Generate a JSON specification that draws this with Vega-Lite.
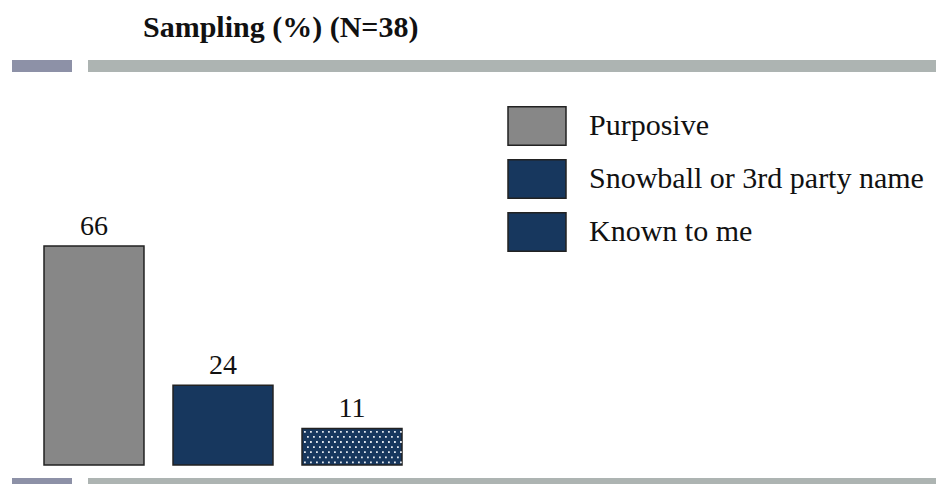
{
  "$schema": "https://vega.github.io/schema/vega-lite/v6.json",
  "autosize": "none",
  "width": 924,
  "height": 418,
  "padding": {"left": 12, "top": 66, "right": 0, "bottom": 0},
  "background": "#ffffff",
  "title": {
    "text": "Sampling (%) (N=38)",
    "font": "Liberation Serif",
    "fontSize": 30,
    "fontWeight": "bold",
    "color": "#111111",
    "anchor": "start",
    "dx": 131,
    "offset": -1,
    "baseline": "alphabetic"
  },
  "view": {
    "fill": null,
    "stroke": {
      "gradient": "linear",
      "x1": 0, "y1": 0, "x2": 1, "y2": 0,
      "stops": [
        {"offset": 0, "color": "#8d91a7"},
        {"offset": 0.07, "color": "#8d91a7"},
        {"offset": 0.0701, "color": "#adb4b2"},
        {"offset": 1, "color": "#adb4b2"}
      ]
    },
    "strokeWidth": 12,
    "strokeDash": [60, 16, 848, 418, 848, 16, 60, 418]
  },
  "data": {
    "values": [
      {"group": "Purposive", "pct": 66},
      {"group": "Snowball or 3rd party name", "pct": 24},
      {"group": "Known to me", "pct": 11}
    ]
  },
  "encoding": {
    "x": {
      "field": "group",
      "type": "nominal",
      "sort": null,
      "scale": {"range": [32, 390], "paddingInner": 0.225, "paddingOuter": 0},
      "axis": null
    },
    "y": {
      "field": "pct",
      "type": "quantitative",
      "scale": {"domain": [-5.73, 120.25], "nice": false, "zero": true},
      "axis": null
    },
    "color": {
      "field": "group",
      "type": "nominal",
      "scale": {
        "domain": ["Purposive", "Snowball or 3rd party name", "Known to me"],
        "range": ["#878787", "#17375e", "#17375e"]
      },
      "legend": {
        "orient": "none",
        "legendX": 495,
        "legendY": 30,
        "title": null,
        "symbolSize": 3364,
        "symbolType": "M-1,-0.66H1V0.66H-1Z",
        "symbolStrokeColor": "#222222",
        "symbolStrokeWidth": 1.5,
        "labelFont": "Liberation Serif",
        "labelFontSize": 30,
        "labelColor": "#111111",
        "labelOffset": 22,
        "labelLimit": 500,
        "rowPadding": 0
      }
    }
  },
  "layer": [
    {
      "transform": [{"filter": "datum.group !== 'Known to me'"}],
      "mark": {"type": "bar", "stroke": "#222222", "strokeWidth": 1.5, "opacity": 1}
    },
    {
      "transform": [{"filter": "datum.group === 'Known to me'"}],
      "mark": {"type": "bar", "stroke": "#222222", "strokeWidth": 1.5, "opacity": 1}
    },
    {
      "transform": [{"filter": "datum.group === 'Known to me'"}],
      "mark": {
        "type": "point",
        "filled": true,
        "strokeWidth": 0,
        "opacity": 1,
        "size": 144,
        "shape": "M-8,0.4h0.3v0.3h-0.3zM-7,0.4h0.3v0.3h-0.3zM-6,0.4h0.3v0.3h-0.3zM-5,0.4h0.3v0.3h-0.3zM-4,0.4h0.3v0.3h-0.3zM-3,0.4h0.3v0.3h-0.3zM-2,0.4h0.3v0.3h-0.3zM-1,0.4h0.3v0.3h-0.3zM0,0.4h0.3v0.3h-0.3zM1,0.4h0.3v0.3h-0.3zM2,0.4h0.3v0.3h-0.3zM3,0.4h0.3v0.3h-0.3zM4,0.4h0.3v0.3h-0.3zM5,0.4h0.3v0.3h-0.3zM6,0.4h0.3v0.3h-0.3zM7,0.4h0.3v0.3h-0.3zM8,0.4h0.3v0.3h-0.3zM-7.5,1.25h0.3v0.3h-0.3zM-6.5,1.25h0.3v0.3h-0.3zM-5.5,1.25h0.3v0.3h-0.3zM-4.5,1.25h0.3v0.3h-0.3zM-3.5,1.25h0.3v0.3h-0.3zM-2.5,1.25h0.3v0.3h-0.3zM-1.5,1.25h0.3v0.3h-0.3zM-0.5,1.25h0.3v0.3h-0.3zM0.5,1.25h0.3v0.3h-0.3zM1.5,1.25h0.3v0.3h-0.3zM2.5,1.25h0.3v0.3h-0.3zM3.5,1.25h0.3v0.3h-0.3zM4.5,1.25h0.3v0.3h-0.3zM5.5,1.25h0.3v0.3h-0.3zM6.5,1.25h0.3v0.3h-0.3zM7.5,1.25h0.3v0.3h-0.3zM-8,2.1h0.3v0.3h-0.3zM-7,2.1h0.3v0.3h-0.3zM-6,2.1h0.3v0.3h-0.3zM-5,2.1h0.3v0.3h-0.3zM-4,2.1h0.3v0.3h-0.3zM-3,2.1h0.3v0.3h-0.3zM-2,2.1h0.3v0.3h-0.3zM-1,2.1h0.3v0.3h-0.3zM0,2.1h0.3v0.3h-0.3zM1,2.1h0.3v0.3h-0.3zM2,2.1h0.3v0.3h-0.3zM3,2.1h0.3v0.3h-0.3zM4,2.1h0.3v0.3h-0.3zM5,2.1h0.3v0.3h-0.3zM6,2.1h0.3v0.3h-0.3zM7,2.1h0.3v0.3h-0.3zM8,2.1h0.3v0.3h-0.3zM-7.5,2.95h0.3v0.3h-0.3zM-6.5,2.95h0.3v0.3h-0.3zM-5.5,2.95h0.3v0.3h-0.3zM-4.5,2.95h0.3v0.3h-0.3zM-3.5,2.95h0.3v0.3h-0.3zM-2.5,2.95h0.3v0.3h-0.3zM-1.5,2.95h0.3v0.3h-0.3zM-0.5,2.95h0.3v0.3h-0.3zM0.5,2.95h0.3v0.3h-0.3zM1.5,2.95h0.3v0.3h-0.3zM2.5,2.95h0.3v0.3h-0.3zM3.5,2.95h0.3v0.3h-0.3zM4.5,2.95h0.3v0.3h-0.3zM5.5,2.95h0.3v0.3h-0.3zM6.5,2.95h0.3v0.3h-0.3zM7.5,2.95h0.3v0.3h-0.3zM-8,3.8h0.3v0.3h-0.3zM-7,3.8h0.3v0.3h-0.3zM-6,3.8h0.3v0.3h-0.3zM-5,3.8h0.3v0.3h-0.3zM-4,3.8h0.3v0.3h-0.3zM-3,3.8h0.3v0.3h-0.3zM-2,3.8h0.3v0.3h-0.3zM-1,3.8h0.3v0.3h-0.3zM0,3.8h0.3v0.3h-0.3zM1,3.8h0.3v0.3h-0.3zM2,3.8h0.3v0.3h-0.3zM3,3.8h0.3v0.3h-0.3zM4,3.8h0.3v0.3h-0.3zM5,3.8h0.3v0.3h-0.3zM6,3.8h0.3v0.3h-0.3zM7,3.8h0.3v0.3h-0.3zM8,3.8h0.3v0.3h-0.3zM-7.5,4.65h0.3v0.3h-0.3zM-6.5,4.65h0.3v0.3h-0.3zM-5.5,4.65h0.3v0.3h-0.3zM-4.5,4.65h0.3v0.3h-0.3zM-3.5,4.65h0.3v0.3h-0.3zM-2.5,4.65h0.3v0.3h-0.3zM-1.5,4.65h0.3v0.3h-0.3zM-0.5,4.65h0.3v0.3h-0.3zM0.5,4.65h0.3v0.3h-0.3zM1.5,4.65h0.3v0.3h-0.3zM2.5,4.65h0.3v0.3h-0.3zM3.5,4.65h0.3v0.3h-0.3zM4.5,4.65h0.3v0.3h-0.3zM5.5,4.65h0.3v0.3h-0.3zM6.5,4.65h0.3v0.3h-0.3zM7.5,4.65h0.3v0.3h-0.3zM-8,5.5h0.3v0.3h-0.3zM-7,5.5h0.3v0.3h-0.3zM-6,5.5h0.3v0.3h-0.3zM-5,5.5h0.3v0.3h-0.3zM-4,5.5h0.3v0.3h-0.3zM-3,5.5h0.3v0.3h-0.3zM-2,5.5h0.3v0.3h-0.3zM-1,5.5h0.3v0.3h-0.3zM0,5.5h0.3v0.3h-0.3zM1,5.5h0.3v0.3h-0.3zM2,5.5h0.3v0.3h-0.3zM3,5.5h0.3v0.3h-0.3zM4,5.5h0.3v0.3h-0.3zM5,5.5h0.3v0.3h-0.3zM6,5.5h0.3v0.3h-0.3zM7,5.5h0.3v0.3h-0.3zM8,5.5h0.3v0.3h-0.3z"
      },
      "encoding": {
        "color": {"value": "#e3e8ef"}
      }
    },
    {
      "mark": {"type": "text", "baseline": "bottom", "dy": -5, "font": "Liberation Serif", "fontSize": 28},
      "encoding": {
        "color": {"value": "#111111"},
        "text": {"field": "pct", "type": "quantitative"}
      }
    }
  ],
  "config": {
    "view": {"stroke": null}
  }
}
